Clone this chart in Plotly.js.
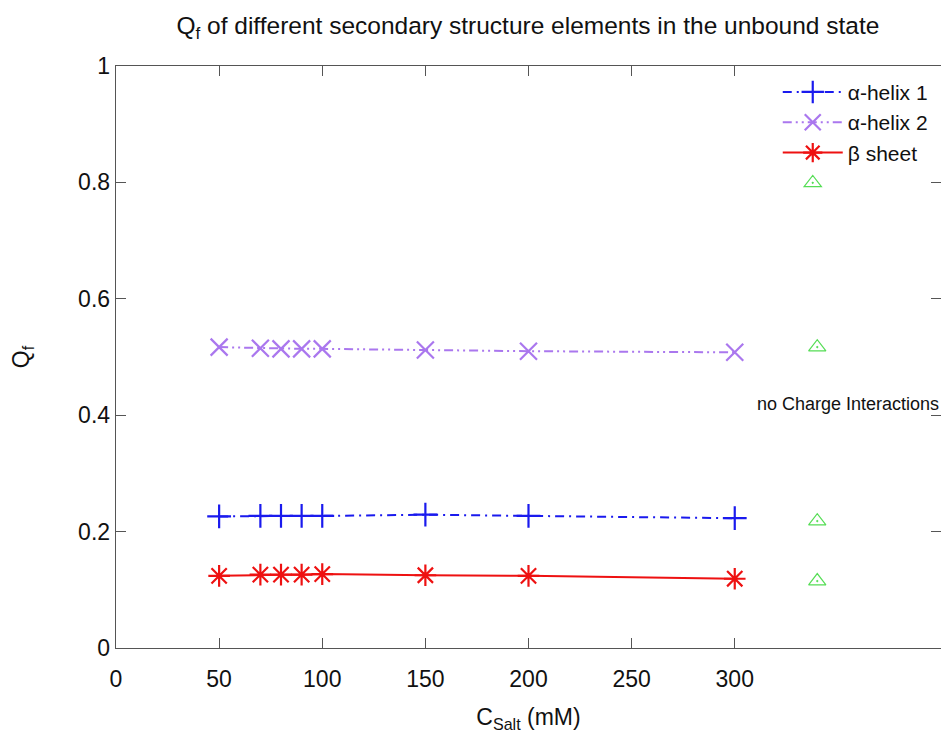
<!DOCTYPE html>
<html>
<head>
<meta charset="utf-8">
<script src="https://cdn.plot.ly/plotly-3.0.1.min.js"></script>
<style>html,body{margin:0;padding:0;background:#fff;}#plot{width:941px;height:735px;}</style>
</head>
<body>
<div id="plot"></div>
<script>
const saltConc = [50, 70, 80, 90, 100, 150, 200, 300];
const helix1 = [0.226, 0.227, 0.227, 0.227, 0.227, 0.229, 0.227, 0.223];
const helix2 = [0.517, 0.515, 0.514, 0.514, 0.514, 0.512, 0.510, 0.508];
const betaSheet = [0.124, 0.126, 0.126, 0.126, 0.127, 0.125, 0.124, 0.119];
const noChargeX = [340, 340, 340];
const noChargeY = [0.517, 0.218, 0.115];
const xTicks = [0, 50, 100, 150, 200, 250, 300];
const yTicks = [0, 0.2, 0.4, 0.6, 0.8, 1];

const font = "Liberation Sans, Arial, sans-serif";

const traces = [
  {x: saltConc, y: helix1, name: 'α-helix 1', mode: 'lines+markers',
   line: {color: '#1a1aee', width: 2, dash: '9px,5px,2px,5px'},
   marker: {symbol: 'cross-thin-open', size: 17, line: {color: '#1a1aee', width: 2.2}}},
  {x: saltConc, y: helix2, name: 'α-helix 2', mode: 'lines+markers',
   line: {color: '#aa77ee', width: 2, dash: '9px,4px,2px,4px,2px,4px'},
   marker: {symbol: 'x-thin-open', size: 17, line: {color: '#aa77ee', width: 2.2}}},
  {x: saltConc, y: betaSheet, name: 'β sheet', mode: 'lines+markers',
   line: {color: '#ee1111', width: 2},
   marker: {symbol: 'asterisk-open', size: 18, line: {color: '#ee1111', width: 2.2}}},
  {x: noChargeX, y: noChargeY, name: ' ', mode: 'markers',
   marker: {symbol: 'triangle-up-open-dot', size: 15, color: '#55dd55', line: {color: '#55dd55', width: 1.2}}}
];

const layout = {
  width: 941, height: 735,
  margin: {l: 116, r: 0, t: 66, b: 87},
  paper_bgcolor: '#fff', plot_bgcolor: '#fff',
  font: {family: font, color: '#111', size: 23},
  title: {text: 'Q<sub>f</sub> of different secondary structure elements in the unbound state',
          x: 0.561, xanchor: 'center', y: 0.965, yanchor: 'middle',
          font: {family: font, size: 24.5, color: '#111'}},
  xaxis: {range: [0, 400], tickvals: xTicks, ticktext: xTicks.map(String),
          ticks: 'inside', ticklen: 10, tickcolor: '#555', tickwidth: 1,
          showline: true, linecolor: '#555', linewidth: 1.3, mirror: 'ticks',
          showgrid: false, zeroline: false, ticklabelstandoff: 10,
          tickfont: {family: font, size: 23, color: '#111'},
          title: {text: 'C<sub>Salt</sub> (mM)', standoff: 18, font: {family: font, size: 23, color: '#111'}}},
  yaxis: {range: [0, 1], tickvals: yTicks, ticktext: yTicks.map(String),
          ticks: 'inside', ticklen: 10, tickcolor: '#555', tickwidth: 1,
          showline: true, linecolor: '#555', linewidth: 1.3, mirror: 'ticks',
          showgrid: false, zeroline: false,
          tickfont: {family: font, size: 23, color: '#111'},
          title: {text: 'Q<sub>f</sub>', standoff: 42, font: {family: font, size: 23, color: '#111'}}},
  showlegend: true,
  legend: {x: 0.99, xanchor: 'right', y: 0.99, yanchor: 'top',
           bgcolor: 'rgba(0,0,0,0)', borderwidth: 0, itemwidth: 60, tracegroupgap: 0,
           font: {family: font, size: 21, color: '#111'}},
  annotations: [{x: 355, y: 0.42, xref: 'x', yref: 'y', text: 'no Charge Interactions',
                 showarrow: false, xanchor: 'center', yanchor: 'middle',
                 font: {family: font, size: 18, color: '#111'}}]
};

Plotly.newPlot('plot', traces, layout, {displayModeBar: false, staticPlot: true});
</script>
</body>
</html>
